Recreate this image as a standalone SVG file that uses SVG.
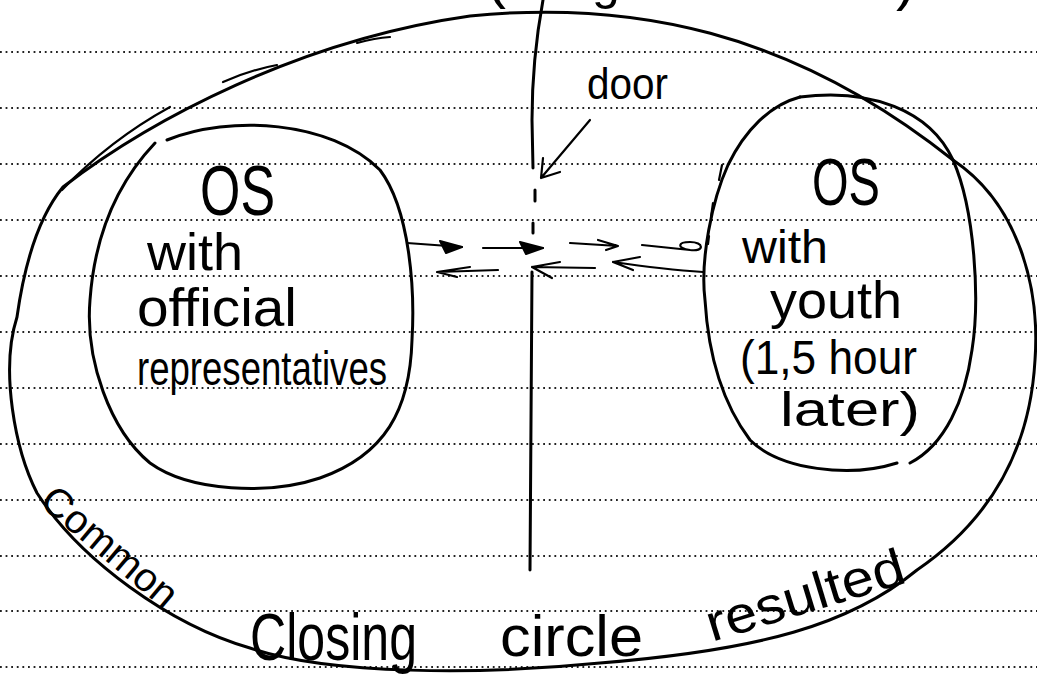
<svg xmlns="http://www.w3.org/2000/svg" width="1037" height="698" viewBox="0 0 1037 698">
  <style>
    .rule { stroke: #222; stroke-width: 1.8; stroke-dasharray: 1.8 3.8; fill: none; }
    .ink { stroke: #000; stroke-width: 3; fill: none; stroke-linecap: round; stroke-linejoin: round; }
    .thin { stroke: #000; stroke-width: 2.2; fill: none; stroke-linecap: round; stroke-linejoin: round; }
    .hand { font-family: "Liberation Sans", "DejaVu Sans", sans-serif; fill: #000; }
  </style>

  <rect width="1037" height="698" fill="#fff"/>

  <!-- ruled notebook lines -->
  <g id="rules">
    <line class="rule" x1="0" y1="52" x2="1037" y2="52"/>
    <line class="rule" x1="0" y1="108" x2="1037" y2="108"/>
    <line class="rule" x1="0" y1="164" x2="1037" y2="164"/>
    <line class="rule" x1="0" y1="220" x2="1037" y2="220"/>
    <line class="rule" x1="0" y1="276" x2="1037" y2="276"/>
    <line class="rule" x1="0" y1="332" x2="1037" y2="332"/>
    <line class="rule" x1="0" y1="388" x2="1037" y2="388"/>
    <line class="rule" x1="0" y1="444" x2="1037" y2="444"/>
    <line class="rule" x1="0" y1="500" x2="1037" y2="500"/>
    <line class="rule" x1="0" y1="556" x2="1037" y2="556"/>
    <line class="rule" x1="0" y1="611" x2="1037" y2="611"/>
    <line class="rule" x1="0" y1="667" x2="1037" y2="667"/>
  </g>

  <!-- heading running off the top edge of the page -->
  <g id="heading">
    <text class="hand" x="486" y="-3" font-size="60">(</text>
    <text class="hand" x="592" y="-1" font-size="50">g</text>
    <text class="hand" x="896" y="-1" font-size="60">)</text>
  </g>

  <!-- common closing circle -->
  <g id="common-circle">
    <path class="ink" d="M 63,187 C 150,120 300,40 470,16 C 630,0 790,30 953,160 C 1020,205 1040,290 1035,360 C 1030,450 990,520 917,570 C 850,625 760,650 600,663 C 480,675 330,675 250,648 C 170,625 80,560 37,493 C 15,450 0,370 17,317 C 25,260 40,215 63,187"/>
    <path class="thin" d="M 62,190 Q 110,140 170,107"/>
    <path class="thin" d="M 223,82 Q 250,70 277,65"/>
    <path class="thin" d="M 357,43 Q 375,38 390,37"/>
    <text class="hand" font-size="40" transform="translate(38,504) rotate(40)" textLength="165" lengthAdjust="spacingAndGlyphs">Common</text>
    <text class="hand" x="250" y="660" font-size="66" textLength="167" lengthAdjust="spacingAndGlyphs">Closing</text>
    <text class="hand" x="500" y="656" font-size="58" textLength="143" lengthAdjust="spacingAndGlyphs">circle</text>
    <text class="hand" font-size="52" transform="translate(712,642) rotate(-17)" textLength="205" lengthAdjust="spacingAndGlyphs">resulted</text>
  </g>

  <!-- open space with official representatives -->
  <g id="os-official">
    <path class="ink" d="M 167,140 C 230,115 330,120 380,170 C 410,210 415,290 412,340 C 410,410 385,455 320,478 C 270,495 190,492 150,463 C 110,430 85,360 90,300 C 95,230 120,180 155,143"/>
    <text class="hand" x="200" y="215" font-size="70" textLength="75" lengthAdjust="spacingAndGlyphs">OS</text>
    <text class="hand" x="147" y="270" font-size="52" textLength="96" lengthAdjust="spacingAndGlyphs">with</text>
    <text class="hand" x="137" y="326" font-size="54" textLength="160" lengthAdjust="spacingAndGlyphs">official</text>
    <text class="hand" x="137" y="385" font-size="48" textLength="250" lengthAdjust="spacingAndGlyphs">representatives</text>
  </g>

  <!-- open space with youth -->
  <g id="os-youth">
    <path class="ink" d="M 800,97 C 770,105 745,130 728,165 C 712,200 700,260 705,300 C 708,350 720,400 750,440 C 780,470 850,478 897,463"/>
    <path class="ink" d="M 800,97 C 870,88 930,110 953,160 C 975,210 980,300 972,350 C 965,400 945,445 910,463"/>
    <path class="thin" d="M 722,165 L 719,180"/>
    <path class="thin" d="M 713,203 L 711,217"/>
    <path class="thin" d="M 709,236 L 708,244"/>
    <text class="hand" x="812" y="205" font-size="66" textLength="68" lengthAdjust="spacingAndGlyphs">OS</text>
    <text class="hand" x="742" y="263" font-size="46" textLength="86" lengthAdjust="spacingAndGlyphs">with</text>
    <text class="hand" x="770" y="318" font-size="52" textLength="132" lengthAdjust="spacingAndGlyphs">youth</text>
    <text class="hand" x="740" y="374" font-size="48" textLength="177" lengthAdjust="spacingAndGlyphs">(1,5 hour</text>
    <text class="hand" x="780" y="426" font-size="48" textLength="140" lengthAdjust="spacingAndGlyphs">later)</text>
  </g>

  <!-- dividing wall with the door -->
  <g id="door">
    <path class="ink" d="M 543,0 Q 532,60 532,120 L 533,168"/>
    <path class="ink" d="M 535,190 L 535,201 M 533,223 L 533,233"/>
    <path class="ink" d="M 532,272 L 530,570"/>
    <text class="hand" x="587" y="99" font-size="44" textLength="81" lengthAdjust="spacingAndGlyphs">door</text>
  </g>

  <!-- connectors -->
  <g id="connectors">
    <!-- label pointer to the door -->
    <path class="thin" d="M 590,120 L 541,178 M 541,178 L 543,158 M 541,178 L 560,172"/>
    <!-- outgoing, official to youth -->
    <path class="thin" d="M 407,243 L 462,247"/>
    <path d="M 440,241 L 462,247 L 446,253 Z" fill="#000" stroke="#000" stroke-width="2" stroke-linejoin="round"/>
    <path class="thin" d="M 483,248 L 543,248"/>
    <path d="M 520,242 L 543,248 L 526,254 Z" fill="#000" stroke="#000" stroke-width="2" stroke-linejoin="round"/>
    <path class="thin" d="M 570,243 L 618,246 M 598,240 L 618,246 L 606,250"/>
    <path class="thin" d="M 642,245 L 690,250 M 690,250 C 705,252 704,242 690,242 C 678,242 676,248 690,250"/>
    <!-- returning, youth to official -->
    <path class="thin" d="M 703,272 C 670,270 640,266 613,262 M 613,262 L 640,257 M 613,262 L 633,270"/>
    <path class="thin" d="M 595,268 L 532,267 M 532,267 L 560,262 M 532,267 L 552,278"/>
    <path class="thin" d="M 498,270 L 437,272 M 437,272 L 470,267 M 437,272 L 457,277"/>
  </g>
</svg>
